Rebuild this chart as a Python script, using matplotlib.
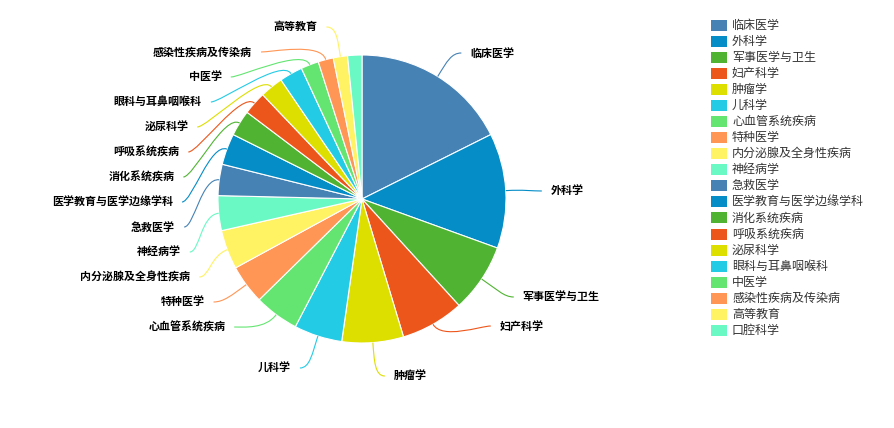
import math
import matplotlib
matplotlib.use("Agg")
import matplotlib.pyplot as plt
from matplotlib.patches import Rectangle, PathPatch
from matplotlib.path import Path

plt.rcParams['font.family'] = ['Noto Sans CJK SC', 'DejaVu Sans']

# ---- data -------------------------------------------------------------
categories = [
    "临床医学", "外科学", "军事医学与卫生", "妇产科学", "肿瘤学",
    "儿科学", "心血管系统疾病", "特种医学", "内分泌腺及全身性疾病", "神经病学",
    "急救医学", "医学教育与医学边缘学科", "消化系统疾病", "呼吸系统疾病", "泌尿科学",
    "眼科与耳鼻咽喉科", "中医学", "感染性疾病及传染病", "高等教育", "口腔科学",
]
counts = [176, 129, 77, 71, 69, 54, 50, 44, 44, 39,
          35, 35, 29, 26, 26, 26, 20, 17, 16, 16]

palette = ["#4682B4", "#058DC7", "#50B432", "#ED561B", "#DDDF00",
           "#24CBE5", "#64E572", "#FF9655", "#FFF263", "#6AF9C4"]

# ---- layout (pixel units, y measured downward) ------------------------
W, H = 895, 428
CX, CY, RADIUS = 362, 199, 144
# vertical position of each outside label (None = label hidden)
label_y = [53, 191, 297, 326, 376, 368, 327, 302, 277, 252,
           227, 202, 177, 152, 127, 102, 77, 52, 27, None]
RA, LEN2, GAP = 170, 10, 9
FS_LABEL = 11 * 72 / 100   # 11 px text
FS_LEGEND = 12 * 72 / 100  # 12 px text


def dy(py):
    return H - py


fig = plt.figure(figsize=(W / 100, H / 100), dpi=100)
ax = fig.add_axes([0, 0, 1, 1])

colors = [palette[i % len(palette)] for i in range(len(categories))]
wedges, _ = ax.pie(counts, colors=colors, startangle=90, counterclock=False,
                   center=(CX, dy(CY)), radius=RADIUS,
                   wedgeprops=dict(edgecolor="white", linewidth=0.8))
ax.set_xlim(0, W)
ax.set_ylim(0, H)
ax.set_aspect("equal")
ax.axis("off")

# ---- outside labels with guide lines ---------------------------------
items = []
for i, w in enumerate(wedges):
    if label_y[i] is None:
        continue
    th = math.radians((w.theta1 + w.theta2) / 2)
    ux, uy = math.cos(th), -math.sin(th)
    items.append(dict(i=i, ux=ux, uy=uy, ly=label_y[i],
                      side=1 if ux >= 0 else -1))

groups = {}
for it in items:
    groups.setdefault((it["side"], it["ly"] > CY), []).append(it)

for grp in groups.values():
    ext = max(grp, key=lambda it: abs(it["ly"] - CY))
    edy = abs(ext["ly"] - CY)
    edx = RA * abs(ext["ux"])
    rb = edy / math.sqrt(1 - (edx / RA) ** 2) if edx < RA else RA
    for it in grp:
        if it is ext:
            it["dx"] = edx
        else:
            d = abs(it["ly"] - CY)
            it["dx"] = RA * math.sqrt(max(0.0, 1 - (d / rb) ** 2))

for it in items:
    i, s = it["i"], it["side"]
    p0 = (CX + RADIUS * it["ux"], CY + RADIUS * it["uy"])
    c1 = (p0[0] + 18 * it["ux"], p0[1] + 18 * it["uy"])
    p3 = (CX + s * (it["dx"] + LEN2), it["ly"])
    c2 = (p3[0] - s * 10, p3[1])
    verts = [(x, dy(y)) for x, y in (p0, c1, c2, p3)]
    path = Path(verts, [Path.MOVETO, Path.CURVE4, Path.CURVE4, Path.CURVE4])
    ax.add_patch(PathPatch(path, facecolor="none", edgecolor=colors[i],
                           linewidth=0.8))
    ax.text(p3[0] + s * GAP, dy(it["ly"]), categories[i],
            ha="left" if s > 0 else "right", va="center",
            fontsize=FS_LABEL, fontweight="bold", color="#000000")

# ---- legend ----------------------------------------------------------
LX, LY0, LSTEP = 711, 25, 16.08
for k, name in enumerate(categories):
    yc = LY0 + k * LSTEP
    ax.add_patch(Rectangle((LX, dy(yc + 5.5)), 16, 11,
                           facecolor=colors[k], edgecolor="none"))
    ax.text(LX + 21, dy(yc), name, ha="left", va="center",
            fontsize=FS_LEGEND, color="#333333")

fig.savefig("out.png", dpi=100)
